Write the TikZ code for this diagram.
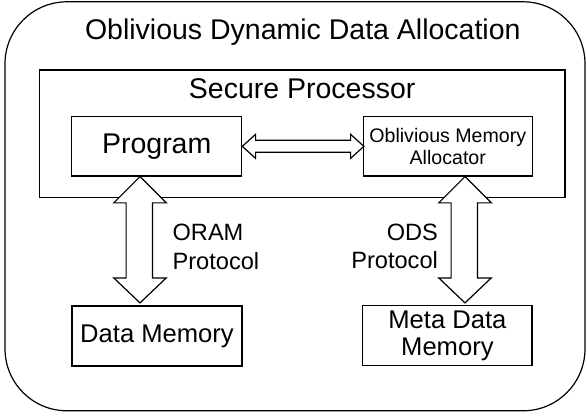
\documentclass[tikz,border=0pt]{standalone}
\usepackage{fontspec}
\setmainfont{Liberation Sans}
\usetikzlibrary{calc}
\begin{document}
\begin{tikzpicture}[x=1pt,y=-1pt,line width=1.2pt,
  box/.style={draw,rectangle,inner sep=0pt,align=center},
  hollow/.style={draw,fill=white,line join=miter},
  bigtext/.style={font=\fontsize{28.5}{34}\selectfont},
  midtext/.style={font=\fontsize{25.6}{27.3}\selectfont},
  lbltext/.style={font=\fontsize{23.6}{28.3}\selectfont,inner sep=0pt},
  smalltext/.style={font=\fontsize{19.6}{21.3}\selectfont}]
\useasboundingbox (0,0) rectangle (587,417);
\node[box,rounded corners=62pt,minimum width=580,minimum height=409] (outer) at (295,206.3) {};
\node[bigtext,anchor=base] (title) at (302.8,40) {Oblivious Dynamic Data Allocation};
\node[box,minimum width=525.7,minimum height=127.7] (sp) at (302.2,133.85) {};
\node[bigtext,anchor=base] (sptext) at (302.2,99) {Secure Processor};
\node[box,bigtext,minimum width=170,minimum height=59.3] (prog) at (156.7,146.35) {Program};
\node[box,smalltext,minimum width=169,minimum height=59.3] (oma) at (447.8,146.35) {Oblivious Memory\\Allocator};
\node[box,midtext,minimum width=170,minimum height=60] (dm) at (157,336) {Data Memory};
\node[box,midtext,minimum width=169.3,minimum height=60] (mdm) at (447.4,335.7) {Meta Data\\Memory};
\node[lbltext,anchor=west,align=left] (oram) at (172,247) {ORAM\\Protocol};
\node[lbltext,anchor=east,align=right] (ods) at (438.5,246.5) {ODS\\Protocol};
% horizontal double arrow
\draw[hollow] (prog.east) -- ++(13.3,-12) -- ++(0,6) -- ++(95,0) -- ++(0,-6) -- ++(13.3,12) -- ++(-13.3,12) -- ++(0,-6) -- ++(-95,0) -- ++(0,6) -- cycle;
% left vertical double arrow
\draw[hollow] ([xshift=-16.7pt]prog.south) -- ++(26.3,26.3) -- ++(-13.9,0) -- ++(0,75) -- ++(13.9,0) -- ++(-26.3,25) -- ++(-26.3,-25) -- ++(12.4,0) -- ++(0,-75) -- ++(-12.4,0) -- cycle;
% right vertical double arrow
\draw[hollow] ([xshift=17.2pt]oma.south) -- ++(26.3,26.3) -- ++(-13.9,0) -- ++(0,75) -- ++(13.9,0) -- ++(-26.3,25) -- ++(-26.3,-25) -- ++(12.4,0) -- ++(0,-75) -- ++(-12.4,0) -- cycle;
\end{tikzpicture}
\end{document}
